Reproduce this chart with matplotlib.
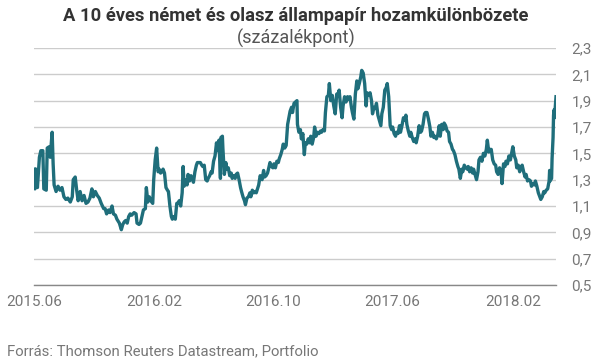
import numpy as np
import pandas as pd
import matplotlib
matplotlib.use("Agg")
import matplotlib.pyplot as plt

plt.rcParams["font.family"] = ["Roboto", "DejaVu Sans"]

# days after 2015-06-01
days_2015 = [0, 2, 4, 7, 11, 14, 18, 20, 25, 27, 31, 33, 37, 39, 41, 45, 49, 53, 57, 61,
             65, 69, 74, 78, 80, 84, 87, 90, 94, 98, 102, 106, 110, 114, 118, 121, 125, 129, 133, 137,
             142, 145, 148, 152, 155, 159, 162, 166, 169, 174, 178, 181, 184, 187, 190, 193, 196, 199, 204]
spread_2015 = [1.38, 1.23, 1.38, 1.24, 1.47, 1.52, 1.52, 1.23, 1.22, 1.54, 1.55, 1.47, 1.66, 1.42, 1.26, 1.21, 1.25, 1.22, 1.24, 1.17,
               1.15, 1.16, 1.13, 1.17, 1.30, 1.32, 1.22, 1.14, 1.21, 1.14, 1.18, 1.12, 1.13, 1.16, 1.23, 1.17, 1.21, 1.18, 1.16, 1.12,
               1.08, 1.08, 1.04, 1.07, 1.05, 1.10, 1.04, 1.03, 1.00, 0.97, 0.92, 0.96, 0.98, 0.99, 0.97, 1.02, 1.04, 1.03, 1.05]

days_2016 = [208, 210, 214, 217, 220, 223, 227, 229, 232, 235, 238, 242, 244, 247, 250, 253, 255, 258, 261, 263,
             266, 269, 272, 274, 277, 280, 282, 285, 288, 291, 293, 296, 299, 302, 304, 306, 309, 312, 314, 317,
             320, 323, 325, 328, 331, 333, 336, 339, 342, 344, 347, 350, 353, 355, 358, 361, 363, 366, 369, 372,
             374, 377, 380, 381, 384, 385, 388, 391, 393, 396, 399, 402, 404, 407, 410, 412, 415, 418, 421, 423,
             426, 429, 431, 434, 437, 440, 442, 445, 448, 451, 453, 458, 461, 465, 468, 470, 473, 476, 478, 481,
             484, 487, 489, 492, 495, 498, 500, 503, 506, 508, 511, 514, 517, 519, 522, 525, 527, 530, 533, 536,
             537, 540, 543, 545, 548, 551, 553, 556, 559, 562, 564, 567, 570, 572, 575, 578]
spread_2016 = [1.04, 0.97, 0.96, 0.97, 1.02, 1.07, 1.08, 1.24, 1.13, 1.17, 1.14, 1.12, 1.30, 1.45, 1.54, 1.36, 1.38, 1.35, 1.36, 1.38,
               1.35, 1.24, 1.22, 1.21, 1.10, 1.02, 1.00, 1.02, 1.00, 1.12, 1.12, 1.14, 1.10, 1.20, 1.40, 1.25, 1.30, 1.26, 1.34, 1.29,
               1.33, 1.30, 1.28, 1.36, 1.41, 1.43, 1.43, 1.43, 1.41, 1.40, 1.41, 1.30, 1.29, 1.31, 1.33, 1.36, 1.35, 1.44, 1.48, 1.58,
               1.52, 1.60, 1.31, 1.62, 1.63, 1.54, 1.34, 1.43, 1.38, 1.39, 1.33, 1.35, 1.31, 1.33, 1.31, 1.34, 1.35, 1.30, 1.24, 1.21,
               1.17, 1.14, 1.11, 1.16, 1.17, 1.20, 1.17, 1.22, 1.20, 1.21, 1.20, 1.26, 1.33, 1.30, 1.37, 1.32, 1.33, 1.35, 1.38, 1.43,
               1.40, 1.39, 1.42, 1.39, 1.44, 1.43, 1.46, 1.49, 1.53, 1.57, 1.54, 1.56, 1.72, 1.76, 1.82, 1.85, 1.81, 1.88, 1.89, 1.90,
               1.72, 1.66, 1.68, 1.61, 1.65, 1.49, 1.58, 1.57, 1.61, 1.58, 1.63, 1.57, 1.62, 1.70, 1.63, 1.66]

days_2017 = [581, 584, 586, 589, 592, 594, 597, 600, 602, 605, 608, 611, 614, 617, 619, 622, 625, 628, 630, 633,
             636, 639, 641, 644, 647, 649, 652, 655, 658, 660, 663, 666, 668, 671, 674, 677, 679, 682, 685, 688,
             690, 693, 696, 698, 701, 704, 707, 709, 712, 715, 718, 720, 723, 726, 729, 731, 734, 737, 739, 742,
             745, 747, 750, 753, 756, 758, 760, 763, 766, 768, 771, 774, 777, 779, 782, 785, 788, 790, 793, 796,
             798, 801, 804, 807, 809, 812, 815, 817, 820, 823, 826, 828, 831, 834, 836, 839, 842, 845, 847, 850,
             853, 855, 858, 861, 864, 866, 869, 872, 874, 877, 880, 883, 885, 888, 891, 894, 896, 899, 902, 905,
             907, 910, 913, 916, 919, 922, 924, 927, 930, 932, 935, 938, 941, 943]
spread_2017 = [1.65, 1.67, 1.66, 1.68, 1.67, 1.81, 1.93, 1.94, 2.03, 1.90, 1.94, 1.86, 1.80, 1.95, 1.94, 1.98, 1.85, 1.77, 1.86, 1.93,
               1.89, 1.93, 1.91, 1.93, 1.85, 1.81, 1.76, 1.95, 2.05, 1.99, 2.03, 2.08, 2.13, 2.11, 2.03, 1.86, 1.96, 1.94, 1.96, 1.90,
               1.80, 1.85, 1.84, 1.88, 1.79, 1.75, 1.71, 1.80, 1.85, 1.98, 2.00, 2.03, 1.93, 1.71, 1.68, 1.70, 1.65, 1.63, 1.66, 1.65,
               1.71, 1.66, 1.71, 1.77, 1.75, 1.79, 1.72, 1.67, 1.63, 1.66, 1.62, 1.59, 1.61, 1.58, 1.63, 1.71, 1.66, 1.67, 1.72, 1.80,
               1.81, 1.81, 1.76, 1.70, 1.63, 1.66, 1.62, 1.63, 1.61, 1.64, 1.71, 1.63, 1.72, 1.68, 1.73, 1.71, 1.67, 1.66, 1.59, 1.57,
               1.53, 1.52, 1.49, 1.44, 1.40, 1.38, 1.31, 1.38, 1.36, 1.41, 1.39, 1.38, 1.40, 1.36, 1.39, 1.35, 1.38, 1.34, 1.30, 1.36,
               1.45, 1.47, 1.44, 1.50, 1.48, 1.53, 1.60, 1.51, 1.53, 1.53, 1.45, 1.42, 1.41, 1.36]

days_2018 = [946, 949, 952, 954, 957, 960, 962, 965, 968, 971, 973, 976, 979, 982, 984, 987, 990, 992, 995, 998,
             1001, 1003, 1006, 1009, 1012, 1014, 1017, 1020, 1022, 1025, 1028, 1031, 1033, 1036, 1039, 1041, 1044, 1047, 1050, 1051,
             1052, 1055, 1056, 1058, 1059, 1060, 1061, 1063, 1064]
spread_2018 = [1.34, 1.39, 1.36, 1.27, 1.42, 1.40, 1.44, 1.42, 1.48, 1.45, 1.49, 1.55, 1.48, 1.45, 1.39, 1.41, 1.36, 1.39, 1.41, 1.36,
               1.32, 1.34, 1.29, 1.30, 1.29, 1.25, 1.27, 1.26, 1.29, 1.25, 1.20, 1.17, 1.15, 1.17, 1.21, 1.20, 1.22, 1.23, 1.29, 1.37,
               1.29, 1.31, 1.46, 1.62, 1.79, 1.83, 1.77, 1.88, 1.93]

start_date = "2015-06-01"
x_ticks = ["2015-06-01", "2016-02-01", "2016-10-01", "2017-06-01", "2018-02-01"]
x_labels = ["2015.06", "2016.02", "2016.10", "2017.06", "2018.02"]
y_ticks = [0.5, 0.7, 0.9, 1.1, 1.3, 1.5, 1.7, 1.9, 2.1, 2.3]

days = days_2015 + days_2016 + days_2017 + days_2018
spread = spread_2015 + spread_2016 + spread_2017 + spread_2018
dates = pd.Timestamp(start_date) + pd.to_timedelta(days, unit="D")

fig = plt.figure(figsize=(5.92, 3.61), dpi=100)
ax = fig.add_axes([34 / 592, 1 - 285 / 361, 522 / 592, 237 / 361])

ax.plot(dates, spread, color="#1f6e7b", lw=2.4, solid_joinstyle="round")

ax.set_ylim(0.5, 2.3)
ax.set_xlim(pd.Timestamp(start_date), dates[-1])
ax.set_yticks(y_ticks)
ax.set_yticklabels([f"{v:.1f}".replace(".", ",") for v in y_ticks])
ax.yaxis.tick_right()
ax.set_xticks(pd.to_datetime(x_ticks))
ax.set_xticklabels(x_labels)

ax.grid(axis="y", color="#cccccc", lw=1)
ax.set_axisbelow(True)
for side in ["top", "left", "right"]:
    ax.spines[side].set_visible(False)
ax.spines["bottom"].set_color("#888888")
ax.spines["bottom"].set_linewidth(1)

ax.tick_params(axis="both", length=0, colors="#777777", labelsize=11)
ax.tick_params(axis="y", pad=11)
ax.tick_params(axis="x", pad=7)

fig.text(0.5, 1 - 16 / 361, "A 10 éves német és olasz állampapír hozamkülönbözete",
         ha="center", va="center", fontsize=13.2, fontweight="bold", color="#333333")
fig.text(0.5, 1 - 38 / 361, "(százalékpont)", ha="center", va="center",
         fontsize=13, color="#555555")
fig.text(7 / 592, 1 - 351 / 361, "Forrás: Thomson Reuters Datastream, Portfolio",
         ha="left", va="center", fontsize=10.7, color="#777777")

fig.savefig("out.png", dpi=100)
